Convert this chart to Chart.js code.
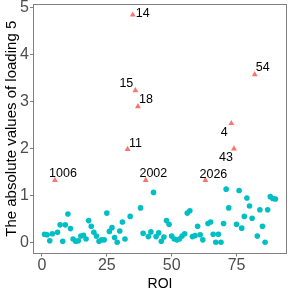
<!DOCTYPE html>
<html>
<head>
<meta charset="utf-8">
<script src="https://cdn.jsdelivr.net/npm/chart.js@4"></script>
<style>
html,body{margin:0;padding:0;background:#fff;}
canvas{display:block;}
</style>
</head>
<body>
<canvas id="c" width="291" height="291"></canvas>
<script>
// ROI indices and absolute loading values of the regular points
const normalRoi = [1,2,3,4,6,7,8,9,10,11,12,13,14,15,16,17,18,19,20,21,22,23,24,25,26,27,28,29,30,31,32,34,38,39,41,42,43,44,45,46,47,48,49,50,51,52,53,54,55,56,57,58,59,60,61,62,64,65,66,67,68,69,70,71,72,75,76,77,78,79,80,81,83,84,85,86,87,88,89,90];
const normalValues = [0.18,0.17,0.04,0.19,0.22,0.38,0.03,0.38,0.61,0.30,0.08,0.03,0.04,0.14,0.16,0.08,0.47,0.35,0.22,0.14,0.03,0.06,0.06,0.63,0.24,0.32,0.11,0.01,0.25,0.44,0.08,0.56,0.74,0.20,0.13,0.23,1.07,0.13,0.21,0.03,0.12,0.47,0.39,0.14,0.08,0.06,0.08,0.14,0.19,0.63,0.68,0.13,0.15,0.35,0.17,0.06,0.41,0.44,0.18,0.01,0.18,0.01,0.41,1.14,0.74,0.39,1.11,0.31,0.56,0.95,0.78,0.52,0.14,0.70,0.35,0.01,0.70,0.98,0.94,0.93];

// Outlying ROIs (triangles) with their labels
const outlierRoi = [5,33,35,36,37,40,63,73,74,82];
const outlierValues = [1.33,1.99,4.85,3.24,2.90,1.33,1.33,2.54,2.00,3.58];
const outlierLabels = ['1006','11','14','15','18','2002','2026','4','43','54'];

// Tick labels
const xTicks = [0,25,50,75];
const yTicks = [0,1,2,3,4,5];

const FONT = 'Liberation Sans, Arial, sans-serif';
// label offsets (px) relative to each triangle, in the order of outlierLabels
const labelOffsets = [[8,-6.5],[8,-5.5],[10,-1],[-9,-6.5],[8,-6.5],[7.6,-6.2],[8,-6],[-7,9.5],[-8,9.3],[8,-7]];

const borderPlugin = {
  id: 'panelBorder',
  afterDatasetsDraw(chart) {
    const {ctx, chartArea: a} = chart;
    ctx.save();
    ctx.strokeStyle = '#808080';
    ctx.lineWidth = 1;
    ctx.strokeRect(Math.round(a.left) + 0.5, Math.round(a.top) + 0.5, Math.round(a.right - a.left) - 1, Math.round(a.bottom - a.top) - 1);
    ctx.restore();
  }
};

const labelPlugin = {
  id: 'pointLabels',
  afterDatasetsDraw(chart) {
    const {ctx} = chart;
    const meta = chart.getDatasetMeta(1);
    ctx.save();
    ctx.font = '12.5px ' + FONT;
    ctx.fillStyle = '#000';
    ctx.textAlign = 'center';
    ctx.textBaseline = 'middle';
    meta.data.forEach((el, i) => {
      const o = labelOffsets[i];
      ctx.fillText(outlierLabels[i], el.x + o[0], el.y + o[1]);
    });
    ctx.restore();
  }
};

new Chart(document.getElementById('c'), {
  type: 'scatter',
  data: {
    datasets: [
      {
        data: normalRoi.map((x, i) => ({x: x, y: normalValues[i]})),
        backgroundColor: '#00BFC4',
        borderWidth: 0,
        pointRadius: 2.8,
        pointStyle: 'circle'
      },
      {
        data: outlierRoi.map((x, i) => ({x: x, y: outlierValues[i]})),
        backgroundColor: '#F8766D',
        borderWidth: 0,
        pointRadius: 3.4,
        pointStyle: 'triangle'
      }
    ]
  },
  options: {
    responsive: false,
    animation: false,
    devicePixelRatio: 1,
    layout: {padding: {top: 3, right: 4, left: 0, bottom: 0}},
    plugins: {legend: {display: false}, tooltip: {enabled: false}},
    scales: {
      x: {
        type: 'linear',
        min: -3.45,
        max: 94.45,
        afterBuildTicks: s => { s.ticks = xTicks.map(v => ({value: v})); },
        afterFit: s => { s.height = 37.5; s.paddingLeft = 0; s.paddingRight = 0; },
        grid: {drawOnChartArea: false, drawTicks: true, tickLength: 3, tickColor: '#808080'},
        border: {display: false},
        ticks: {font: {family: FONT, size: 16, lineHeight: 1}, color: '#4D4D4D', padding: 1, maxRotation: 0, autoSkip: false},
        title: {display: true, text: 'ROI', color: '#000', font: {family: FONT, size: 14, lineHeight: 1}, padding: {top: 0, bottom: 0}}
      },
      y: {
        type: 'linear',
        min: -0.23,
        max: 5.08,
        afterBuildTicks: s => { s.ticks = yTicks.map(v => ({value: v})); },
        afterFit: s => { s.width = 33; s.paddingTop = 0; s.paddingBottom = 0; },
        grid: {drawOnChartArea: false, drawTicks: true, tickLength: 3, tickColor: '#808080'},
        border: {display: false},
        ticks: {font: {family: FONT, size: 16, lineHeight: 1}, color: '#4D4D4D', padding: 1, autoSkip: false},
        title: {display: true, text: 'The absolute values of loading 5', color: '#000', font: {family: FONT, size: 15}, padding: {top: 2.5, bottom: 0}}
      }
    }
  },
  plugins: [borderPlugin, labelPlugin]
});
</script>
</body>
</html>
